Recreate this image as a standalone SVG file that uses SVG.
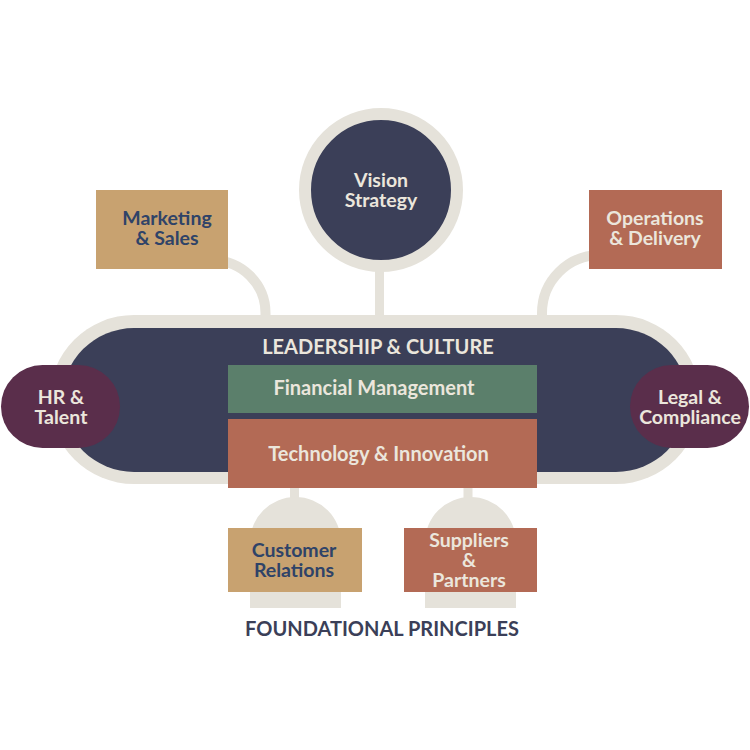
<svg xmlns="http://www.w3.org/2000/svg" width="750" height="750" viewBox="0 0 750 750">
<style>
text{font-family:Lato,"Noto Sans","Liberation Sans",sans-serif;font-weight:700;text-anchor:middle}
.lt{fill:#ebe6dc;font-size:19.5px}
.dk{fill:#2f4368;font-size:19.5px}
.big{font-size:20px}
.conn{fill:none;stroke:#e5e2da;stroke-width:10}
.bg{fill:#e5e2da}
</style>
<rect width="750" height="750" fill="#ffffff"/>
<g id="connectors">
  <path class="conn" d="M 213 260.5 A 52.5 52.5 0 0 1 265.5 313 L 265.5 320"/>
  <path class="conn" d="M 600 255 A 58 58 0 0 0 542 313 L 542 320"/>
  <rect class="bg" x="375" y="260" width="9" height="60"/>
  <rect class="bg" x="290" y="480" width="9" height="20"/>
  <rect class="bg" x="463.5" y="480" width="9" height="20"/>
</g>
<g id="leadership">
  <rect class="bg" x="49.5" y="315" width="651" height="169" rx="84.5"/>
  <rect x="62" y="328" width="626" height="144" rx="72" fill="#3b3f58"/>
  <text x="378" y="354" class="lt big">LEADERSHIP &amp; CULTURE</text>
</g>
<g id="vision">
  <circle cx="381" cy="190" r="76" fill="#3b3f58" stroke="#e5e2da" stroke-width="12"/>
  <text x="381" y="187" class="lt">Vision</text>
  <text x="381" y="207" class="lt">Strategy</text>
</g>
<g id="marketing">
  <rect x="96" y="190" width="132" height="79" fill="#c8a270"/>
  <text x="167" y="225" class="dk">Marketing</text>
  <text x="167" y="245" class="dk">&amp; Sales</text>
</g>
<g id="operations">
  <rect x="589" y="190" width="133" height="79" fill="#b36a55"/>
  <text x="655" y="225" class="lt">Operations</text>
  <text x="655" y="245" class="lt">&amp; Delivery</text>
</g>
<g id="hr">
  <rect x="1" y="365" width="119" height="83" rx="41.5" fill="#5a2e4b"/>
  <text x="61" y="404" class="lt">HR &amp;</text>
  <text x="61" y="424" class="lt">Talent</text>
</g>
<g id="legal">
  <rect x="630" y="365" width="119" height="83" rx="41.5" fill="#5a2e4b"/>
  <text x="690" y="404" class="lt">Legal &amp;</text>
  <text x="690" y="424" class="lt">Compliance</text>
</g>
<g id="financial">
  <rect x="228" y="365" width="309" height="48" fill="#5b7f6b"/>
  <text x="374" y="395" class="lt big">Financial Management</text>
</g>
<g id="technology">
  <rect x="228" y="419" width="309" height="69" fill="#b36a55"/>
  <text x="378.5" y="461" class="lt big">Technology &amp; Innovation</text>
</g>
<g id="customer">
  <path class="bg" d="M 250 608 L 250 542.5 A 45.5 45.5 0 0 1 341 542.5 L 341 608 Z"/>
  <rect x="228" y="528" width="134" height="64" fill="#c8a270"/>
  <text x="294" y="557" class="dk">Customer</text>
  <text x="294" y="577" class="dk">Relations</text>
</g>
<g id="suppliers">
  <path class="bg" d="M 425 608 L 425 542.5 A 45.5 45.5 0 0 1 516 542.5 L 516 608 Z"/>
  <rect x="404" y="528" width="133" height="64" fill="#b36a55"/>
  <text x="469" y="547" class="lt">Suppliers</text>
  <text x="469" y="567" class="lt">&amp;</text>
  <text x="469" y="587" class="lt">Partners</text>
</g>
<g id="foundational">
  <text x="382" y="636" style="fill:#3b3f58;font-size:20px">FOUNDATIONAL PRINCIPLES</text>
</g>
</svg>
